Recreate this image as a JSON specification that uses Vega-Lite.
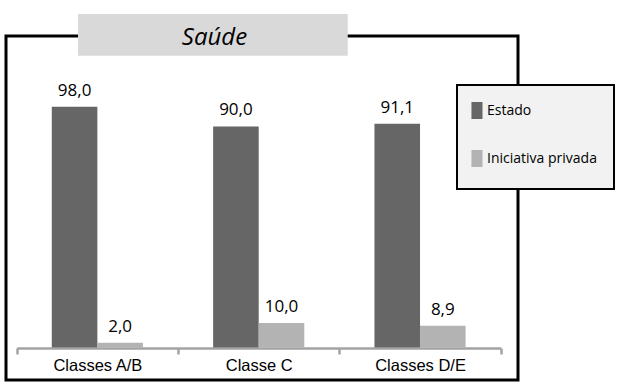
{
  "$schema": "https://vega.github.io/schema/vega-lite/v6.json",
  "autosize": "none",
  "padding": {"left": 6, "top": 36, "right": 102, "bottom": 6},
  "width": 512,
  "height": 344,
  "config": {
    "locale": {"number": {"decimal": ",", "thousands": ".", "grouping": [3], "currency": ["", ""]}},
    "view": {"stroke": "#000000", "strokeWidth": 3},
    "font": "Open Sans"
  },
  "datasets": {
    "saude": [
      {"classe": "Classes A/B", "tipo": "Estado", "valor": 98.0},
      {"classe": "Classes A/B", "tipo": "Iniciativa privada", "valor": 2.0},
      {"classe": "Classe C", "tipo": "Estado", "valor": 90.0},
      {"classe": "Classe C", "tipo": "Iniciativa privada", "valor": 10.0},
      {"classe": "Classes D/E", "tipo": "Estado", "valor": 91.1},
      {"classe": "Classes D/E", "tipo": "Iniciativa privada", "valor": 8.9}
    ],
    "titulo": [{"titulo": "Saúde", "classe_ini": "Classes A/B", "classe_fim": "Classes D/E", "classe_meio": "Classe C", "topo": 135.75, "base": 118.8, "linha": 123.14}]
  },
  "layer": [
    {
      "data": {"name": "saude"},
      "mark": {"type": "bar"},
      "encoding": {
        "x": {
          "field": "classe", "type": "nominal", "sort": ["Classes A/B", "Classe C", "Classes D/E"], "title": null,
          "scale": {"domain": ["Classes A/B", "Classe C", "Classes D/E"], "range": [10.7, 494.7], "paddingInner": 0, "paddingOuter": 0},
          "axis": {
            "offset": -32, "labelAngle": 0, "tickBand": "extent",
            "domainColor": "#a3a3a3", "domainWidth": 2.5,
            "tickColor": "#a3a3a3", "tickWidth": 2.5, "tickSize": 6,
            "labelFont": "Liberation Sans", "labelFontSize": 16.5, "labelColor": "#000000",
            "labelPadding": 3
          }
        },
        "y": {
          "field": "valor", "type": "quantitative",
          "scale": {"domain": [-13.2, 126.8], "nice": false, "zero": false},
          "axis": null
        },
        "y2": {"datum": 0},
        "xOffset": {"field": "tipo", "type": "nominal", "sort": ["Estado", "Iniciativa privada"], "scale": {"paddingInner": 0, "paddingOuter": 0.77}},
        "color": {
          "field": "tipo", "type": "nominal",
          "scale": {"domain": ["Estado", "Iniciativa privada"], "range": ["#666666", "#b3b3b3"]},
          "legend": {
            "orient": "none", "legendX": 451, "legendY": 49,
            "title": " ", "titleOrient": "bottom", "titleFontSize": 1, "titlePadding": 4,
            "padding": 17, "fillColor": "#f2f2f2", "strokeColor": "#000000",
            "rowPadding": 31,
            "symbolType": "M-1.3,-1H0V1H-1.3Z", "symbolSize": 289, "symbolStrokeWidth": 0,
            "labelOffset": -4, "labelFont": "Open Sans", "labelFontSize": 14, "labelColor": "#000000",
            "labelExpr": "datum.label + '  '",
            "encode": {
              "legend": {"update": {"strokeWidth": {"value": 2}}},
              "symbols": {"update": {"fill": {"signal": "datum.value === 'Estado' ? '#808080' : '#a6a6a6'"}, "opacity": {"value": 1}}}
            }
          }
        }
      }
    },
    {
      "data": {"name": "saude"},
      "mark": {"type": "text", "baseline": "alphabetic", "dy": -11, "fontSize": 17, "font": "Open Sans", "color": "#000000"},
      "encoding": {
        "x": {"field": "classe", "type": "nominal", "sort": ["Classes A/B", "Classe C", "Classes D/E"]},
        "y": {"field": "valor", "type": "quantitative"},
        "xOffset": {"field": "tipo", "type": "nominal", "sort": ["Estado", "Iniciativa privada"], "scale": {"paddingInner": 0, "paddingOuter": 0.77}},
        "text": {"field": "valor", "type": "quantitative", "format": ".1f"}
      }
    },
    {
      "data": {"name": "titulo"},
      "mark": {"type": "rect", "color": "#d9d9d9"},
      "encoding": {
        "x": {"field": "classe_ini", "type": "nominal", "bandPosition": 0.38},
        "x2": {"field": "classe_fim", "bandPosition": 0.052},
        "y": {"field": "topo", "type": "quantitative"},
        "y2": {"field": "base"}
      }
    },
    {
      "data": {"name": "titulo"},
      "mark": {"type": "text", "baseline": "alphabetic", "align": "center", "fontSize": 24, "fontStyle": "italic", "font": "Open Sans", "color": "#000000"},
      "encoding": {
        "x": {"field": "classe_meio", "type": "nominal", "bandPosition": 0.226},
        "y": {"field": "linha", "type": "quantitative"},
        "text": {"field": "titulo"}
      }
    }
  ]
}
